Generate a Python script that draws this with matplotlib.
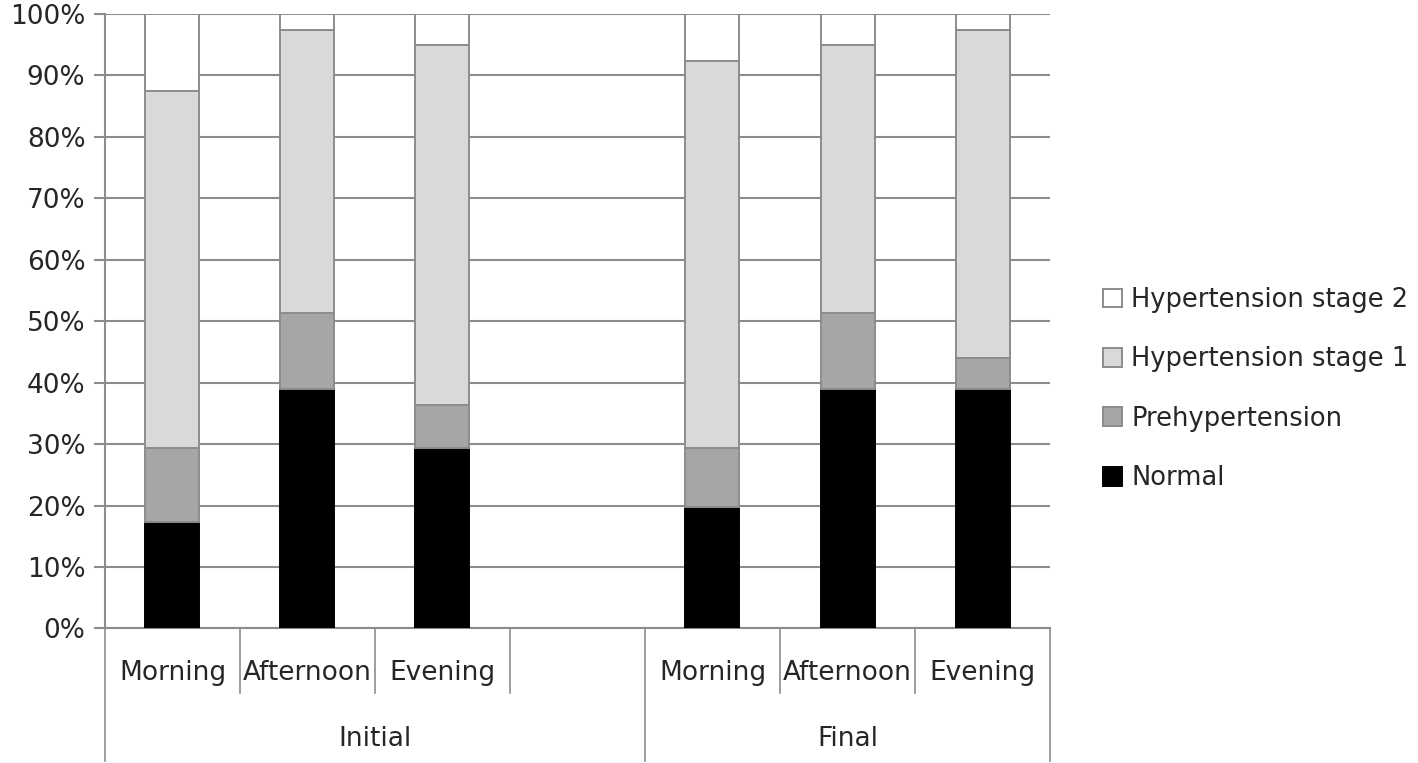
import numpy as np
import matplotlib
matplotlib.use("Agg")
import matplotlib.pyplot as plt
from matplotlib.transforms import blended_transform_factory

# data (percent of readings)
groups = ["Initial", "Final"]
times = ["Morning", "Afternoon", "Evening"]
normal = [17.4, 39.0, 29.4, 19.8, 39.0, 39.0]
prehyp = [11.9, 12.3, 7.0, 9.5, 12.3, 5.0]
stage1 = [58.2, 46.1, 58.5, 63.1, 43.6, 53.4]
stage2 = [12.5, 2.6, 5.1, 7.6, 5.1, 2.6]

series = [
    ("Normal", normal, "#000000"),
    ("Prehypertension", prehyp, "#a6a6a6"),
    ("Hypertension stage 1", stage1, "#d9d9d9"),
    ("Hypertension stage 2", stage2, "#ffffff"),
]

# slot positions: Initial gets 4 slots (last empty), Final gets 3
xpos = np.array([0, 1, 2, 4, 5, 6])
group_edges = [(-0.5, 3.5), (3.5, 6.5)]

GRID = "#8c8c8c"
TXT = "#262626"
FS = 19
plt.rcParams["font.family"] = ["DejaVu Sans"]

fig = plt.figure(figsize=(14.18, 7.63), dpi=100)
ax = fig.add_axes([0.074, 0.1763, 0.6665, 0.8055])

bottom = np.zeros(len(xpos))
handles = []
for name, vals, color in series:
    b = ax.bar(xpos, vals, width=0.4, bottom=bottom, color=color,
               edgecolor=GRID if color != "#000000" else "#000000",
               linewidth=1.4, zorder=3, label=name)
    handles.append(b)
    bottom += np.array(vals)

ax.set_xlim(-0.5, 6.5)
ax.set_ylim(0, 100)
ax.set_yticks(np.arange(0, 101, 10))
ax.set_yticklabels([f"{v}%" for v in range(0, 101, 10)], fontsize=FS, color=TXT)
ax.yaxis.grid(True, color=GRID, linewidth=1.5, zorder=0)
ax.set_axisbelow(True)
ax.tick_params(axis="y", length=8, width=1.5, color=GRID, pad=6)
ax.tick_params(axis="x", length=0)
ax.set_xticks([])
for s in ["top", "right"]:
    ax.spines[s].set_visible(False)
for s in ["left", "bottom"]:
    ax.spines[s].set_color(GRID)
    ax.spines[s].set_linewidth(1.5)

# two-level category axis
tr = blended_transform_factory(ax.transData, ax.transAxes)
short_y, long_y = -0.105, -0.215
for x in [0.5, 1.5, 2.5, 4.5, 5.5]:
    ax.plot([x, x], [0, short_y], transform=tr, color=GRID, lw=1.2, clip_on=False)
for x in [-0.5, 3.5, 6.5]:
    ax.plot([x, x], [0, long_y], transform=tr, color=GRID, lw=1.2, clip_on=False)

for i, x in enumerate(xpos):
    ax.text(x, -0.073, times[i % 3], transform=tr, ha="center", va="center",
            fontsize=FS, color=TXT)
for g, (lo, hi) in zip(groups, group_edges):
    ax.text((lo + hi) / 2, -0.18, g, transform=tr, ha="center", va="center",
            fontsize=FS, color=TXT)

leg = fig.legend(handles[::-1], [s[0] for s in series[::-1]],
                 loc="center left", bbox_to_anchor=(0.778, 0.49),
                 frameon=False, fontsize=18.5, labelspacing=1.3,
                 handlelength=0.75, handleheight=0.75, handletextpad=0.35,
                 labelcolor=TXT, borderaxespad=0, borderpad=0)

fig.savefig("out.png", dpi=100)
